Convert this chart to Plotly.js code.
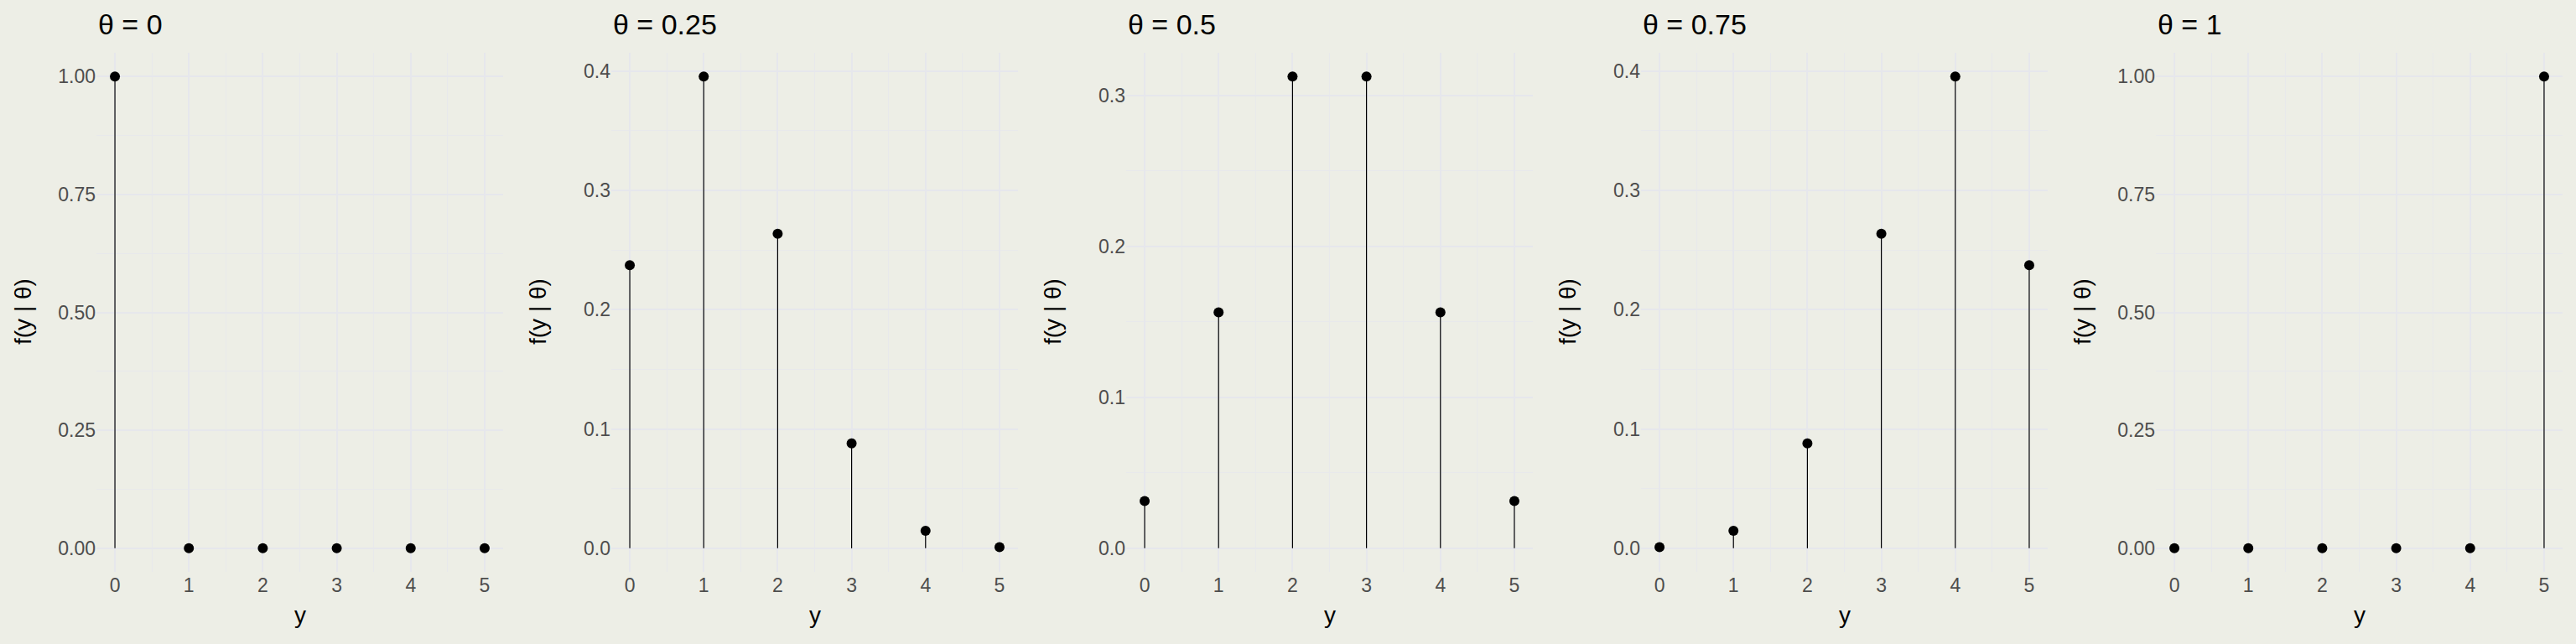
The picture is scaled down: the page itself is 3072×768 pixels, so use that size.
<!DOCTYPE html>
<html>
<head>
<meta charset="utf-8">
<script src="https://cdn.plot.ly/plotly-3.0.1.min.js"></script>
<style>body{margin:0;background:#edeee6;}</style>
</head>
<body>
<div id="chart" style="width:3072px;height:768px;"></div>
<script>
let yValues = [0, 1, 2, 3, 4, 5];
let thetaLabels = ["θ = 0", "θ = 0.25", "θ = 0.5", "θ = 0.75", "θ = 1"];
let probTheta0 = [1, 0, 0, 0, 0, 0];
let probTheta025 = [0.2373, 0.3955, 0.2637, 0.0879, 0.0146, 0.0010];
let probTheta05 = [0.03125, 0.15625, 0.3125, 0.3125, 0.15625, 0.03125];
let probTheta075 = [0.0010, 0.0146, 0.0879, 0.2637, 0.3955, 0.2373];
let probTheta1 = [0, 0, 0, 0, 0, 1];
let yTicks = [
    [0, 0.25, 0.5, 0.75, 1],
    [0, 0.1, 0.2, 0.3, 0.4],
    [0, 0.1, 0.2, 0.3],
    [0, 0.1, 0.2, 0.3, 0.4],
    [0, 0.25, 0.5, 0.75, 1]
];
let yTickLabels = [
    ["0.00", "0.25", "0.50", "0.75", "1.00"],
    ["0.0", "0.1", "0.2", "0.3", "0.4"],
    ["0.0", "0.1", "0.2", "0.3"],
    ["0.0", "0.1", "0.2", "0.3", "0.4"],
    ["0.00", "0.25", "0.50", "0.75", "1.00"]
];

let allProbs = [probTheta0, probTheta025, probTheta05, probTheta075, probTheta1];

let W = 3072, H = 768;
let plotTop = 63, plotBottom = 682;
let traces = [];
let layout = {
    width: W, height: H,
    paper_bgcolor: '#edeee6',
    plot_bgcolor: '#edeee6',
    margin: {l: 0, r: 0, t: 0, b: 0},
    showlegend: false,
    font: {family: 'Liberation Sans, Arial, sans-serif', color: '#4d4d4d'},
    annotations: []
};

for(let i = 0; i < allProbs.length; i++) {

    let probs = allProbs[i];
    let n = i + 1;
    let xa = 'x' + (i ? n : ''), ya = 'y' + (i ? n : '');
    let left = 115 + 614 * i, right = 600 + 614 * i;

    let stemX = [], stemY = [];
    for(let k = 0; k < yValues.length; k++) {
        stemX.push(yValues[k], yValues[k], null);
        stemY.push(0, probs[k], null);
    }
    traces.push({x: stemX, y: stemY, xaxis: xa, yaxis: ya, mode: 'lines',
        line: {color: '#000', width: 1.2}, hoverinfo: 'skip'});
    traces.push({x: yValues, y: probs, xaxis: xa, yaxis: ya, mode: 'markers',
        marker: {color: '#000', size: 12}});

    let maxP = Math.max(...probs);
    let pad = maxP * 0.05;
    let step = yTicks[i][1] - yTicks[i][0];

    layout['xaxis' + (i ? n : '')] = {
        domain: [left / W, right / W], anchor: ya,
        range: [-0.25, 5.25],
        tickvals: yValues, ticktext: yValues.map(String),
        showgrid: true, gridcolor: '#e6e7ec', gridwidth: 2,
        minor: {dtick: 0.5, tick0: 0.5, showgrid: true, gridcolor: '#e8e9eb', gridwidth: 1},
        zeroline: false, showline: false, ticks: '', ticklen: 0,
        tickfont: {size: 23, color: '#4d4d4d'}
    };
    layout['yaxis' + (i ? n : '')] = {
        domain: [1 - plotBottom / H, 1 - plotTop / H], anchor: xa,
        range: [-pad, maxP + pad],
        tickvals: yTicks[i], ticktext: yTickLabels[i],
        showgrid: true, gridcolor: '#e6e7ec', gridwidth: 2,
        minor: {dtick: step / 2, tick0: step / 2, showgrid: true, gridcolor: '#e8e9eb', gridwidth: 1},
        zeroline: false, showline: false, ticks: '',
        tickfont: {size: 23, color: '#4d4d4d'}
    };

    layout.annotations.push({text: thetaLabels[i], xref: 'paper', yref: 'paper',
        x: left / W, y: 1 - 29 / H, xanchor: 'left', yanchor: 'middle', showarrow: false,
        font: {size: 34, color: '#000'}});
    layout.annotations.push({text: 'f(y | θ)', xref: 'paper', yref: 'paper', textangle: -90,
        x: (left - 88) / W, y: 1 - 372 / H, xanchor: 'center', yanchor: 'middle', showarrow: false,
        font: {size: 28, color: '#000'}});
    layout.annotations.push({text: 'y', xref: 'paper', yref: 'paper',
        x: ((left + right) / 2) / W, y: 1 - 733 / H, xanchor: 'center', yanchor: 'middle', showarrow: false,
        font: {size: 28, color: '#000'}});

}

Plotly.newPlot('chart', traces, layout, {displayModeBar: false});
</script>
</body>
</html>
